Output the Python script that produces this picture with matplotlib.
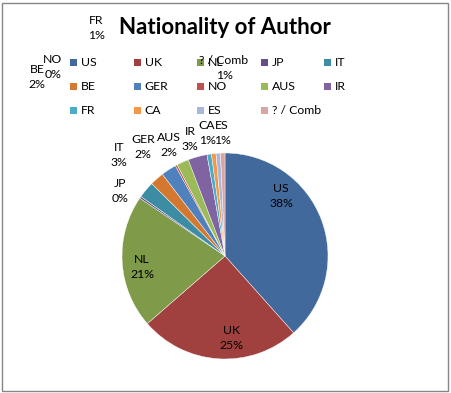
import matplotlib.pyplot as plt
from matplotlib.patches import Rectangle

plt.rcParams['font.family'] = ['Lato', 'DejaVu Sans']

# data
countries = ["US", "UK", "NL", "JP", "IT", "BE", "GER", "NO", "AUS", "IR", "FR", "CA", "ES", "? / Comb"]
shares = [38.4, 25.2, 20.9, 0.3, 2.6, 2.2, 2.4, 0.3, 1.9, 3.0, 0.7, 0.7, 0.7, 0.7]
pct_text = ["38%", "25%", "21%", "0%", "3%", "2%", "2%", "0%", "2%", "3%", "1%", "1%", "1%", "1%"]
colors = ["#41699C", "#A0413F", "#7F9A48", "#664E86", "#3C8DA3", "#D3782E", "#4F81BD",
          "#C0504D", "#9BBB59", "#8064A2", "#4BACC6", "#F79646", "#A9B8D8", "#D9A5A4"]

# label centres in pixels (as Excel placed them)
label_pos = {"US": (281, 196), "UK": (231, 338), "NL": (142, 267), "JP": (120, 191),
             "IT": (119, 155), "BE": (37, 77), "GER": (143, 147), "NO": (53, 67),
             "AUS": (169, 145), "IR": (190, 139), "FR": (96, 28), "CA": (207, 133),
             "ES": (222, 133), "? / Comb": (224, 68)}

W, H = 451, 393
fig = plt.figure(figsize=(W / 100, H / 100), dpi=100)

def px(x, y):
    return x / W, 1 - y / H

# border
fig.patches.append(Rectangle((2 / W, 2 / H), (W - 5) / W, (H - 5) / H,
                             transform=fig.transFigure, fill=False,
                             edgecolor="#868686", linewidth=1))

cx, cy, r = 225, 256, 103
ax = fig.add_axes([(cx - r) / W, 1 - (cy + r) / H, 2 * r / W, 2 * r / H])
ax.pie(shares, colors=colors, startangle=90, counterclock=False,
       wedgeprops=dict(linewidth=0.3, edgecolor="white"))
ax.set_xlim(-1, 1)
ax.set_ylim(-1, 1)
ax.set_aspect("equal")
ax.axis("off")

# legend grid, row by row like Excel
for i, (name, c) in enumerate(zip(countries, colors)):
    row, col = divmod(i, 5)
    lx = 70 + col * 63.5
    ly = 62 + row * 24
    fig.patches.append(Rectangle(px(lx, ly + 3.5), 7 / W, 7 / H,
                                 transform=fig.transFigure, facecolor=c, edgecolor="none"))
    fig.text(*px(lx + 11, ly), name, ha="left", va="center", fontsize=8.8)

for name, pct in zip(countries, pct_text):
    x, y = label_pos[name]
    fig.text(*px(x, y), name + "\n" + pct, ha="center", va="center",
             fontsize=8.8, linespacing=1.35, color="black")

fig.text(*px(225, 27), "Nationality of Author", ha="center", va="center",
         fontsize=16, fontweight="bold")

fig.savefig("out.png", dpi=100)
